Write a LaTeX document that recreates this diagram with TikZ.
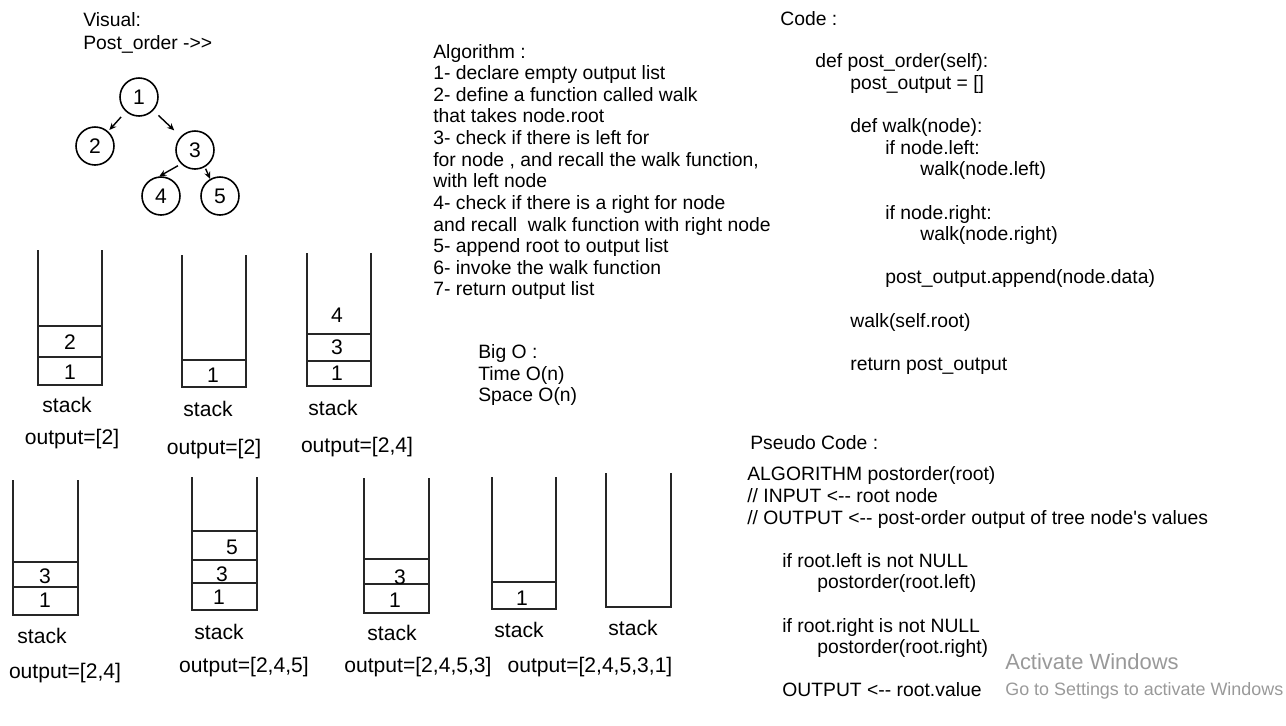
\documentclass[tikz,border=0pt]{standalone}
\usepackage{fontspec}
\setmainfont{Liberation Sans}
\usetikzlibrary{arrows.meta}
\tikzset{treenode/.style={draw, circle, minimum size=0.76cm, inner sep=0pt, line width=0.9pt, font=\fontsize{12}{14}\selectfont}}
\tikzset{treearrow/.style={-{Stealth[length=4pt,width=3.5pt]}, line width=0.8pt, shorten <=4pt, shorten >=1pt}}
\tikzset{stackwall/.style={line width=1pt, draw=black!85}}
\tikzset{slotnum/.style={font=\fontsize{12}{14}\selectfont}}
\tikzset{stacktext/.style={font=\fontsize{12}{14}\selectfont}}
\tikzset{textblock/.style={anchor=west, align=left, inner sep=0pt, font=\fontsize{11}{12.3}\selectfont}}
\tikzset{watermark/.style={anchor=west, inner sep=0pt, text=black!40}}
\newcommand{\ind}{\hspace*{0.7cm}}

\begin{document}
\begin{tikzpicture}[x=0.02cm, y=-0.02cm]

\useasboundingbox (0,0) rectangle (1286,725);

% visual
\node[textblock] (visual) at (83,20) {Visual:};
\node[textblock] (visualsub) at (83,44) {Post\_order ->{}>};

\node[treenode] (n1) at (139,97) {1};
\node[treenode] (n2) at (95,146) {2};
\node[treenode] (n3) at (195,150) {3};
\node[treenode] (n4) at (161,196) {4};
\node[treenode] (n5) at (220,196) {5};

\draw[treearrow] (n1) -- (n2);
\draw[treearrow, shorten >=5pt] (n1) -- (n3);
\draw[treearrow, shorten <=2pt, shorten >=0pt] (n3.225) -- (n4.95);
\draw[treearrow, shorten <=1pt, shorten >=0pt] (n3.300) -- (n5.120);

% stacks, first row
\draw[stackwall] (38,250) -- (38,385) -- (102,385) -- (102,250);
\draw[stackwall] (38,326) -- (102,326);
\draw[stackwall] (38,357) -- (102,357);
\node[slotnum] (a2) at (70,342) {2};
\node[slotnum] (a1) at (70,372) {1};
\node[stacktext] (astack) at (67,405) {stack};
\node[stacktext] (aout) at (72,439) {output=[2]};

\draw[stackwall] (182,255) -- (182,387) -- (246,387) -- (246,255);
\draw[stackwall] (182,360) -- (246,360);
\node[slotnum] (b1) at (213,375) {1};
\node[stacktext] (bstack) at (208,409) {stack};
\node[stacktext] (bout) at (214,449) {output=[2]};

\draw[stackwall] (307,253) -- (307,386) -- (371,386) -- (371,253);
\draw[stackwall] (307,334) -- (371,334);
\draw[stackwall] (307,361) -- (371,361);
\node[slotnum] (c4) at (337,315) {4};
\node[slotnum] (c3) at (337,347) {3};
\node[slotnum] (c1) at (337,373) {1};
\node[stacktext] (cstack) at (333,408) {stack};
\node[stacktext] (cout) at (357,447) {output=[2,4]};

% stacks, second row
\draw[stackwall] (13,480) -- (13,615) -- (78,615) -- (78,480);
\draw[stackwall] (13,562) -- (78,562);
\draw[stackwall] (13,587) -- (78,587);
\node[slotnum] (d3) at (45,576) {3};
\node[slotnum] (d1) at (45,600) {1};
\node[stacktext] (dstack) at (42,636) {stack};
\node[stacktext] (dout) at (65,673) {output=[2,4]};

\draw[stackwall] (192,477) -- (192,610) -- (257,610) -- (257,477);
\draw[stackwall] (192,531) -- (257,531);
\draw[stackwall] (192,560) -- (257,560);
\draw[stackwall] (192,583) -- (257,583);
\node[slotnum] (e5) at (232,547) {5};
\node[slotnum] (e3) at (222,574) {3};
\node[slotnum] (e1) at (219,597) {1};
\node[stacktext] (estack) at (219,632) {stack};
\node[stacktext] (eout) at (244,667) {output=[2,4,5]};

\draw[stackwall] (364,478) -- (364,613) -- (429,613) -- (429,478);
\draw[stackwall] (364,559) -- (429,559);
\draw[stackwall] (364,584) -- (429,584);
\node[slotnum] (f3) at (400,577) {3};
\node[slotnum] (f1) at (395,600) {1};
\node[stacktext] (fstack) at (392,633) {stack};
\node[stacktext] (fout) at (418,667) {output=[2,4,5,3]};

\draw[stackwall] (492,477) -- (492,609) -- (556,609) -- (556,477);
\draw[stackwall] (492,582) -- (556,582);
\node[slotnum] (g1) at (522,598) {1};
\node[stacktext] (gstack) at (519,630) {stack};
\node[stacktext] (gout) at (590,667) {output=[2,4,5,3,1]};

\draw[stackwall] (606,473) -- (606,607) -- (671,607) -- (671,473);
\node[stacktext] (hstack) at (633,628) {stack};

% algorithm and big o
\node[textblock] (algo) at (433,172) {Algorithm :\\
1- declare empty output list\\
2- define a function called walk\\
that takes node.root\\
3- check if there is left for\\
for node , and recall the walk function,\\
with left node\\
4- check if there is a right for node\\
and recall \ walk function with right node\\
5- append root to output list\\
6- invoke the walk function\\
7- return output list};

\node[textblock] (bigo) at (478,375) {Big O :\\ Time O(n)\\ Space O(n)};

% code
\node[textblock] (codetitle) at (780,19) {Code :};
\node[textblock] (code) at (815,214) {def post\_order(self):\\
\ind post\_output = []\\
\mbox{}\\
\ind def walk(node):\\
\ind\ind if node.left:\\
\ind\ind\ind walk(node.left)\\
\mbox{}\\
\ind\ind if node.right:\\
\ind\ind\ind walk(node.right)\\
\mbox{}\\
\ind\ind post\_output.append(node.data)\\
\mbox{}\\
\ind walk(self.root)\\
\mbox{}\\
\ind return post\_output};

% pseudo code
\node[textblock] (pseudotitle) at (750,443) {Pseudo Code :};
\node[textblock] (pseudo) at (747,582) {ALGORITHM postorder(root)\\
// INPUT <-{}- root node\\
// OUTPUT <-{}- post-order output of tree node\textquotesingle s values\\
\mbox{}\\
\ind if root.left is not NULL\\
\ind\ind postorder(root.left)\\
\mbox{}\\
\ind if root.right is not NULL\\
\ind\ind postorder(root.right)\\
\mbox{}\\
\ind OUTPUT <-{}- root.value};

\node[watermark, font=\fontsize{12.5}{14}\selectfont] (activate) at (1005,662) {Activate Windows};
\node[watermark, font=\fontsize{10.2}{12}\selectfont] (gotosettings) at (1005,691) {Go to Settings to activate Windows};

\end{tikzpicture}
\end{document}
